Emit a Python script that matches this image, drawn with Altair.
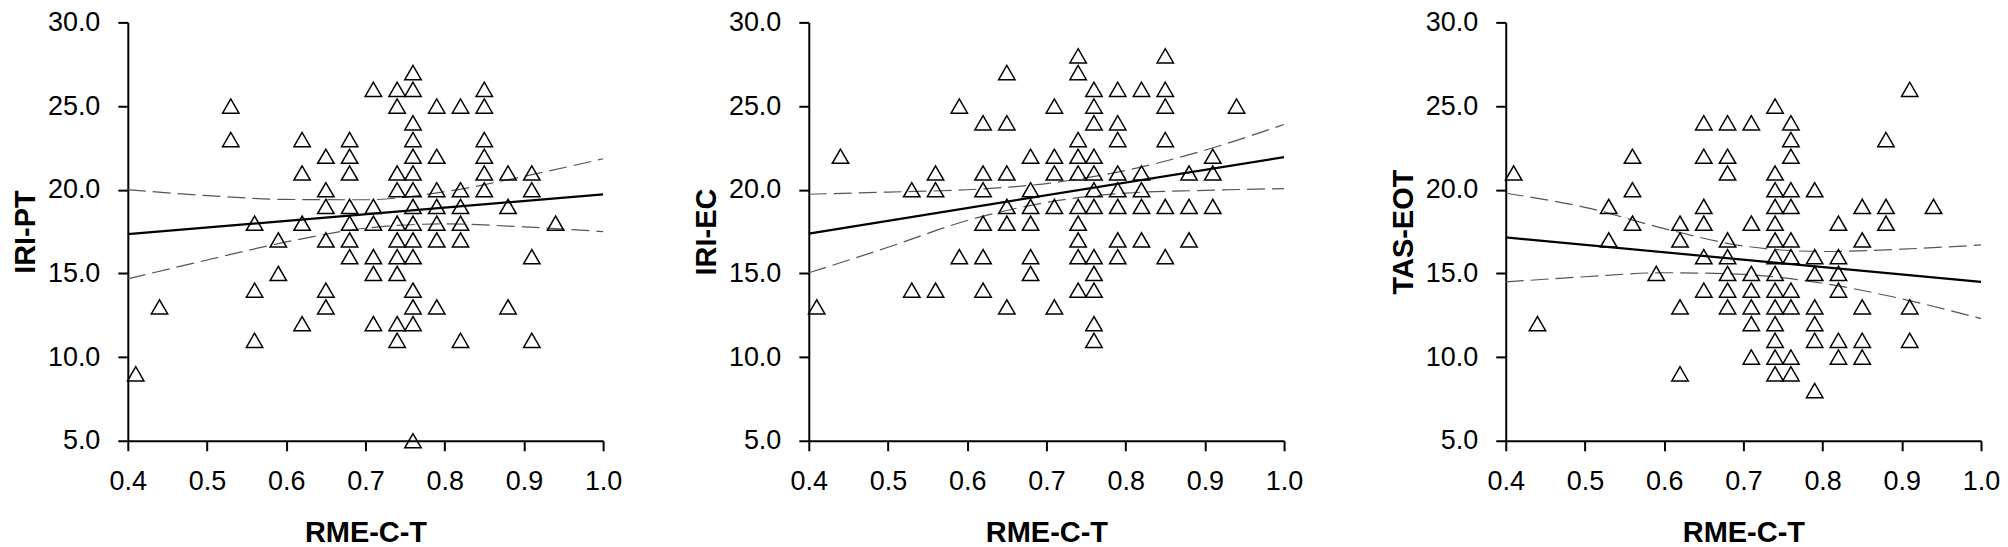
import altair as alt
import pandas as pd

# ---- values ----
X_COLS = [0.41, 0.44, 0.53, 0.56, 0.59, 0.62, 0.65, 0.68, 0.71,
          0.74, 0.76, 0.79, 0.82, 0.85, 0.88, 0.91, 0.94]

# y values per x column (same order as X_COLS)
IRI_PT = [
    [9], [13], [25, 23], [18, 14, 11], [17, 15], [23, 21, 18, 12],
    [22, 20, 19, 17, 14, 13], [23, 22, 21, 19, 18, 17, 16],
    [26, 19, 18, 16, 15, 12], [26, 25, 21, 20, 18, 17, 16, 15, 12, 11],
    [27, 26, 24, 23, 22, 21, 20, 19, 18, 17, 16, 14, 13, 12, 5],
    [25, 22, 20, 19, 18, 17, 13], [25, 20, 19, 18, 17, 11],
    [26, 25, 23, 22, 21, 20], [21, 19, 13], [21, 20, 16, 11], [18],
]
IRI_EC = [
    [13], [22], [20, 14], [21, 20, 14], [25, 16], [24, 21, 20, 18, 16, 14],
    [27, 24, 21, 19, 18, 13], [22, 20, 19, 18, 16, 15], [25, 22, 21, 19, 13],
    [28, 27, 23, 22, 21, 19, 18, 17, 16, 14],
    [26, 25, 24, 22, 21, 20, 19, 16, 15, 14, 12, 11],
    [26, 24, 23, 21, 20, 19, 17, 16], [26, 21, 20, 19, 17],
    [28, 26, 25, 23, 19, 16], [21, 19, 17], [22, 21, 19], [25],
]
TAS_EOT = [
    [21], [12], [19, 17], [22, 20, 18], [15], [18, 17, 13, 9],
    [24, 22, 19, 18, 16, 14], [24, 22, 21, 17, 16, 15, 14, 13],
    [24, 18, 15, 14, 13, 12, 10],
    [25, 21, 20, 19, 18, 17, 16, 15, 14, 13, 12, 11, 10, 9],
    [24, 23, 22, 20, 19, 17, 16, 14, 13, 10, 9],
    [20, 16, 15, 13, 12, 11, 8], [18, 16, 15, 14, 11, 10],
    [19, 17, 13, 11, 10], [23, 19, 18], [26, 13, 11], [19],
]

# regression line (at x = 0.4 and 1.0) and 95% confidence curves
# (at the x tick positions)
FIT_X = [0.4, 1.0]
CI_X = [0.4, 0.5, 0.6, 0.7, 0.8, 0.9, 1.0]
PT_FIT = [17.35, 19.72]
PT_UPPER = [20.0, 19.65, 19.42, 19.4, 19.88, 20.8, 21.85]
PT_LOWER = [14.68, 15.8, 16.88, 17.7, 17.96, 17.78, 17.5]
EC_FIT = [17.38, 21.95]
EC_UPPER = [19.73, 19.86, 20.0, 20.37, 21.15, 22.36, 23.9]
EC_LOWER = [15.04, 16.56, 18.16, 19.24, 19.8, 19.96, 20.07]
EOT_FIT = [17.15, 14.49]
EOT_UPPER = [19.79, 18.95, 17.68, 16.64, 16.31, 16.45, 16.7]
EOT_LOWER = [14.49, 14.8, 15.04, 14.94, 14.41, 13.48, 12.3]

PANELS = [
    ("IRI-PT", IRI_PT, PT_FIT, PT_UPPER, PT_LOWER),
    ("IRI-EC", IRI_EC, EC_FIT, EC_UPPER, EC_LOWER),
    ("TAS-EOT", TAS_EOT, EOT_FIT, EOT_UPPER, EOT_LOWER),
]
X_TITLE = "RME-C-T"
X_TICKS = [0.4, 0.5, 0.6, 0.7, 0.8, 0.9, 1.0]
Y_TICKS = [5, 10, 15, 20, 25, 30]
X_DOMAIN = [0.4, 1.0]
Y_DOMAIN = [5, 30]

FONT = "Liberation Sans"
W, H = 476, 419


def to_long(cols):
    xs, ys = [], []
    for x, col in zip(X_COLS, cols):
        for y in col:
            xs.append(x)
            ys.append(y)
    return pd.DataFrame({"x": xs, "y": ys})


def panel(ytitle, cols, fit, upper, lower):
    df = to_long(cols)
    fit_df = pd.DataFrame({"x": FIT_X, "y": fit})
    ci_df = pd.concat([
        pd.DataFrame({"x": CI_X, "y": upper, "band": "upper"}),
        pd.DataFrame({"x": CI_X, "y": lower, "band": "lower"}),
    ])
    xenc = alt.X("x:Q", scale=alt.Scale(domain=X_DOMAIN, nice=False, zero=False),
                 axis=alt.Axis(values=X_TICKS, format=".1f", title=X_TITLE,
                               labelFlush=False, titlePadding=24))
    yenc = alt.Y("y:Q", scale=alt.Scale(domain=Y_DOMAIN, nice=False, zero=False),
                 axis=alt.Axis(values=Y_TICKS, format=".1f", title=ytitle,
                               titlePadding=7))
    pts = alt.Chart(df).mark_point(shape="triangle-up", filled=False, size=270,
                                   stroke="black", strokeWidth=1.5, opacity=1
                                   ).encode(x=xenc, y=yenc)
    line = alt.Chart(fit_df).mark_line(color="black", strokeWidth=2.2).encode(x="x:Q", y="y:Q")
    band = alt.Chart(ci_df).mark_line(color="#555555", strokeWidth=1.2, interpolate="monotone",
                                      strokeDash=[18, 7]).encode(x="x:Q", y="y:Q", detail="band:N")
    return alt.layer(band, line, pts).properties(width=W, height=H)


p = [panel(*args) for args in PANELS]

chart = alt.hconcat(alt.hconcat(p[0], p[1], spacing=70), p[2], spacing=86).properties(
    padding={"left": 3, "top": 0, "right": 0, "bottom": 0}
).configure_view(stroke=None).configure_axis(
    grid=False,
    domainColor="black", domainWidth=2,
    tickColor="black", tickWidth=2, tickSize=10,
    labelFont=FONT, labelFontSize=27, labelColor="black", labelPadding=18,
    titleFont=FONT, titleFontSize=29, titleFontWeight="bold", titleColor="black",
)

chart.save("out.html", embed_options={"renderer": "svg", "actions": False})
